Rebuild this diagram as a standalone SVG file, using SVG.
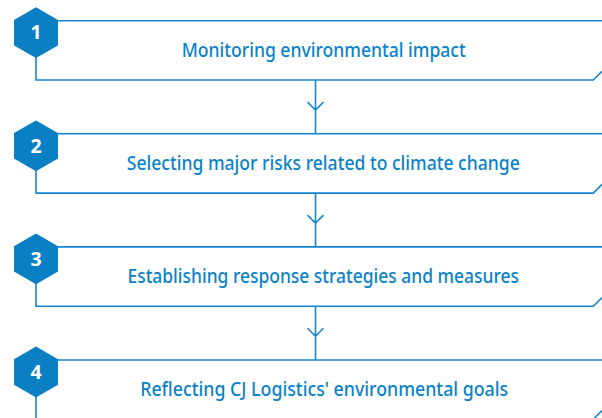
<svg xmlns="http://www.w3.org/2000/svg" width="602" height="418" viewBox="0 0 602 418">
<defs>
<style>
.box{fill:none;stroke:#1287d0;stroke-width:1.6}
.hex{fill:#0a7fc4}
.num{font-family:"Noto Sans","DejaVu Sans",sans-serif;font-weight:bold;font-size:19.5px;fill:#ffffff;text-anchor:middle}
.lbl{font-family:"Noto Sans","Open Sans",sans-serif;font-weight:500;font-size:19.5px;fill:#0a82c8;text-anchor:middle}
.con{fill:none;stroke:#1287d0;stroke-width:1.6}
</style>
<polygon id="hexshape" class="hex" points="36,-13.4 58,-0.7 58,24.7 36,37.4 14,24.7 14,-0.7"/>
</defs>
<rect width="602" height="418" fill="#ffffff"/>
<g id="connectors">
<path class="con" d="M315.5,80 V133.8 M307.5,102 L315.5,110 L323.5,102"/>
<path class="con" d="M315.5,193.1 V246.9 M307.5,215.1 L315.5,223.1 L323.5,215.1"/>
<path class="con" d="M315.5,306.2 V360 M307.5,328.2 L315.5,336.2 L323.5,328.2"/>
</g>
<g id="step1" transform="translate(0,20.7)">
<path class="box" d="M58,0 H602 M36,36 V59.3 H593.3 L602,50.6"/>
<use href="#hexshape"/>
<text class="num" x="36" y="18.7">1</text>
<text class="lbl" x="323.7" y="36" textLength="284" lengthAdjust="spacingAndGlyphs">Monitoring environmental impact</text>
</g>
<g id="step2" transform="translate(0,133.8)">
<path class="box" d="M58,0 H602 M36,36 V59.3 H593.3 L602,50.6"/>
<use href="#hexshape"/>
<text class="num" x="36" y="18.7">2</text>
<text class="lbl" x="323.3" y="36" textLength="393" lengthAdjust="spacingAndGlyphs">Selecting major risks related to climate change</text>
</g>
<g id="step3" transform="translate(0,246.9)">
<path class="box" d="M58,0 H602 M36,36 V59.3 H593.3 L602,50.6"/>
<use href="#hexshape"/>
<text class="num" x="36" y="18.7">3</text>
<text class="lbl" x="323.2" y="36" textLength="391.5" lengthAdjust="spacingAndGlyphs">Establishing response strategies and measures</text>
</g>
<g id="step4" transform="translate(0,360)">
<path class="box" d="M58,0 H602 M36,36 V59.3 H593.3 L602,50.6"/>
<use href="#hexshape"/>
<text class="num" x="36" y="18.7">4</text>
<text class="lbl" x="324.2" y="35.5" textLength="368" lengthAdjust="spacingAndGlyphs">Reflecting CJ Logistics' environmental goals</text>
</g>
</svg>
